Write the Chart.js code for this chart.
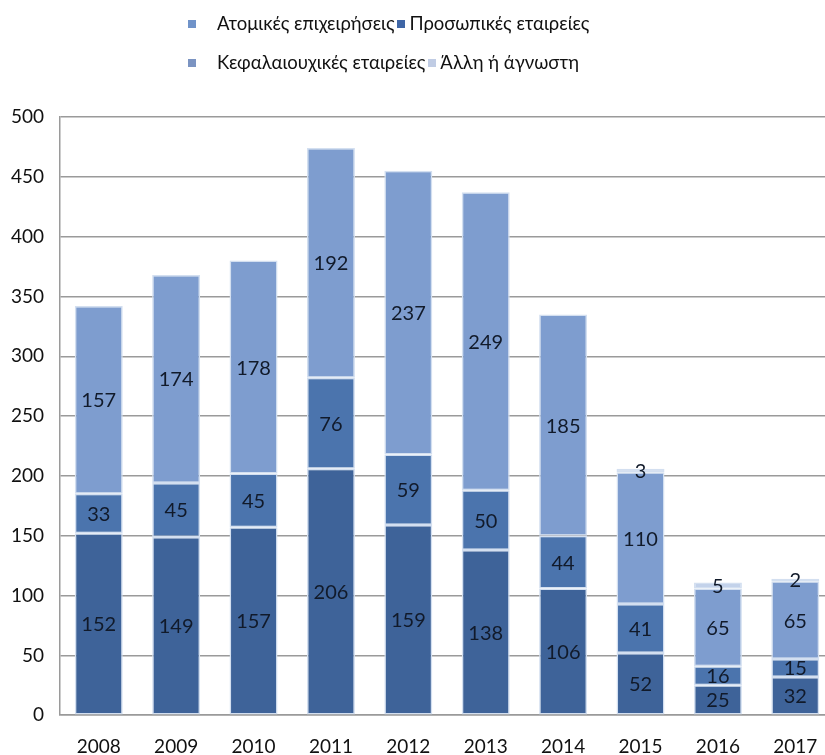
<!DOCTYPE html>
<html>
<head>
<meta charset="utf-8">
<script src="https://cdn.jsdelivr.net/npm/chart.js@4.4.0/dist/chart.umd.min.js"></script>
<style>
  html, body { margin: 0; padding: 0; background: #fff; overflow: hidden; width: 825px; height: 755px; }
  #wrap { position: relative; width: 825px; height: 755px; overflow: hidden; }
  #c { position: absolute; left: -9px; top: 0; }
  #legend { position: absolute; left: 0; top: 0; width: 825px; font-family: Lato, "Open Sans", sans-serif; font-size: 18.5px; color: #111; }
  .row { position: absolute; left: 188px; white-space: nowrap; height: 22px; line-height: 22px; }
  .item { display: inline-block; }
  .box { display: inline-block; width: 8px; height: 8px; vertical-align: middle; position: relative; top: -1px; }
</style>
</head>
<body>
<div id="wrap">
  <canvas id="c" width="853" height="778"></canvas>
  <div id="legend"></div>
</div>
<script>
const years = ['2008','2009','2010','2011','2012','2013','2014','2015','2016','2017'];
const seriesNames = ['Ατομικές επιχειρήσεις','Προσωπικές εταιρείες','Κεφαλαιουχικές εταιρείες','Άλλη ή άγνωστη'];
const atomikes = [152,149,157,206,159,138,106,52,25,32];
const prosopikes = [33,45,45,76,59,50,44,41,16,15];
const kefalaiouxikes = [157,174,178,192,237,249,185,110,65,65];
const alli = [0,0,0,0,0,0,0,3,5,2];
const yTicks = [0,50,100,150,200,250,300,350,400,450,500];

const barColors = ['#3e6399','#4b74ad','#7e9dcf','#c3d2ea'];
const legendColors = ['#7093c9','#3f66a6','#7b94c2','#c0cce4'];

const FONT = 'Lato, "Open Sans", sans-serif';

const dataLabels = {
  id: 'dataLabels',
  afterDatasetsDraw(chart) {
    const ctx = chart.ctx;
    ctx.save();
    ctx.font = '20px ' + FONT;
    ctx.fillStyle = '#111a2a';
    ctx.textAlign = 'center';
    ctx.textBaseline = 'middle';
    chart.data.datasets.forEach((ds, i) => {
      const meta = chart.getDatasetMeta(i);
      meta.data.forEach((bar, j) => {
        const v = ds.data[j];
        if (!v) return;
        const p = bar.getProps(['x','y','base'], true);
        ctx.fillText(String(v), p.x, (p.y + p.base) / 2 + 1);
      });
    });
    ctx.restore();
  }
};

const datasets = [atomikes, prosopikes, kefalaiouxikes, alli].map((d, i) => ({
  label: seriesNames[i],
  data: d,
  backgroundColor: barColors[i],
  borderColor: '#d3dff0',
  borderWidth: 1.5,
  borderSkipped: false,
  barPercentage: 0.62,
  categoryPercentage: 1.0
}));

const chart = new Chart(document.getElementById('c'), {
  type: 'bar',
  data: { labels: years, datasets },
  options: {
    responsive: false,
    animation: false,
    devicePixelRatio: 1,
    layout: { padding: { top: 117, left: 4, right: 10, bottom: 0 } },
    plugins: { legend: { display: false }, tooltip: { enabled: false } },
    scales: {
      x: {
        stacked: true,
        grid: { display: false, drawTicks: false },
        border: { display: true, color: '#9a9a9a', width: 1.5 },
        ticks: { font: { family: FONT, size: 19 }, color: '#111', padding: 20, maxRotation: 0 }
      },
      y: {
        stacked: true,
        min: 0, max: 500,
        afterBuildTicks(axis) { axis.ticks = yTicks.map(v => ({ value: v })); },
        grid: { color: '#9a9a9a', lineWidth: 1.5, drawTicks: false },
        border: { display: true, color: '#9a9a9a', width: 1.5 },
        ticks: { font: { family: FONT, size: 19 }, color: '#111', padding: 16 }
      }
    }
  },
  plugins: [dataLabels]
});

// HTML legend built from the chart's datasets, laid out in two rows
const legend = document.getElementById('legend');
const rows = [[0,1],[2,3]];
const rowTops = [12, 51];
rows.forEach((idxs, r) => {
  const row = document.createElement('div');
  row.className = 'row';
  row.style.top = rowTops[r] + 'px';
  idxs.forEach((i, k) => {
    const item = document.createElement('span');
    item.className = 'item';
    const box = document.createElement('span');
    box.className = 'box';
    box.style.background = legendColors[i];
    const txt = document.createElement('span');
    txt.textContent = chart.data.datasets[i].label;
    txt.style.marginLeft = (k === 0 ? 21 : 4) + 'px';
    if (k === 1) item.style.marginLeft = '3px';
    item.appendChild(box);
    item.appendChild(txt);
    row.appendChild(item);
  });
  legend.appendChild(row);
});
</script>
</body>
</html>
